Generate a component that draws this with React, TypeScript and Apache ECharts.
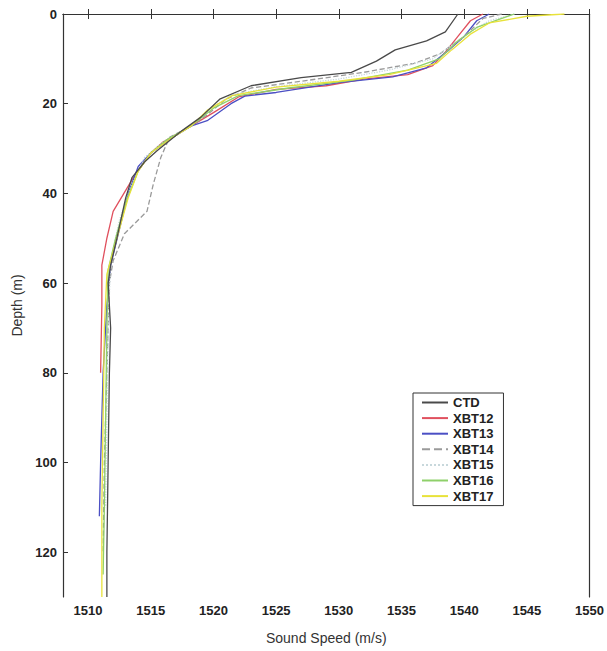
import React, { useEffect, useRef } from "react";
import * as echarts from "echarts";

// [sound speed (m/s), depth (m)]
const ctd: number[][] = [
  [1539.5, 0], [1538.5, 4], [1537, 6], [1534.5, 8], [1533, 10.5], [1531, 13], [1527, 14.2],
  [1523, 16], [1520.5, 19], [1519, 23], [1517.5, 26], [1515.5, 30.5], [1514.5, 33],
  [1513.5, 36.5], [1513, 41], [1512.3, 50], [1511.8, 56], [1511.6, 60], [1511.8, 70],
  [1511.7, 80], [1511.6, 100], [1511.5, 120], [1511.5, 130],
];
const xbt12: number[][] = [
  [1541.5, 0], [1540.5, 1.5], [1539.5, 5], [1538.5, 8.5], [1537.5, 11.5], [1535.5, 13.5],
  [1532, 14.5], [1529, 16], [1525, 16.8], [1522, 18.5], [1520, 22], [1518.2, 25],
  [1516, 28.5], [1515, 31], [1513.5, 37], [1512, 44], [1511.5, 50], [1511.1, 56],
  [1511.1, 65], [1511, 80],
];
const xbt13: number[][] = [
  [1542, 0], [1541, 1.5], [1540, 5], [1538.8, 8], [1537, 12], [1534.3, 14], [1530, 15.3],
  [1525, 17.5], [1522.5, 18.3], [1521.4, 20], [1519.5, 23.8], [1518.2, 25], [1516.5, 28],
  [1515, 31], [1514, 34], [1513.2, 40], [1512.5, 48], [1511.8, 56], [1511.5, 65],
  [1511.2, 80], [1511, 100], [1510.9, 112],
];
const xbt14: number[][] = [
  [1543, 0], [1541.5, 1], [1540, 5], [1538, 9], [1536, 11], [1532, 13], [1527, 15],
  [1523, 16.5], [1521, 19], [1519.5, 22.5], [1518.2, 25], [1516.5, 27.5], [1515.8, 32],
  [1515.2, 38], [1514.7, 44], [1512.9, 49], [1512, 55], [1511.7, 60], [1511.5, 80],
  [1511.3, 100], [1511.2, 120],
];
const xbt15: number[][] = [
  [1544, 0], [1542, 1.5], [1540.5, 4], [1539, 7], [1537.5, 10], [1534, 12.5], [1530, 14.5],
  [1525, 16.2], [1521.5, 18], [1519.8, 21], [1518.2, 25], [1516, 28.5], [1514.5, 32],
  [1513.5, 38], [1512.5, 46], [1511.8, 55], [1511.6, 70], [1511.5, 90], [1511.4, 110],
];
const xbt16: number[][] = [
  [1544, 0], [1542.5, 1.5], [1541, 3], [1539.5, 6], [1538, 10], [1535.5, 12.5], [1531, 14.8],
  [1526, 16.5], [1522, 18.2], [1520, 21], [1518.2, 25], [1516.3, 28], [1515, 31], [1514, 35],
  [1513, 42], [1512.2, 50], [1511.6, 57], [1511.5, 70], [1511.4, 90], [1511.3, 110],
  [1511.2, 125],
];
const xbt17: number[][] = [
  [1548, 0], [1545, 0.5], [1542, 2], [1540.5, 4.5], [1539, 8], [1537.8, 11], [1534, 13.5],
  [1530, 15], [1525, 16.3], [1521.5, 18.2], [1519.5, 21.5], [1518.2, 25], [1516.5, 28],
  [1515, 31], [1514, 35], [1513.2, 41], [1512.3, 50], [1511.5, 58], [1511.3, 70],
  [1511.2, 90], [1511.1, 110], [1511.1, 130],
];

const seriesNames = ["CTD", "XBT12", "XBT13", "XBT14", "XBT15", "XBT16", "XBT17"];
const seriesData = [ctd, xbt12, xbt13, xbt14, xbt15, xbt16, xbt17];
const seriesColors = ["#4a4a4a", "#e0505e", "#4b4fc4", "#9a9a9a", "#c8d8dc", "#8fd06a", "#e8e23a"];
const seriesDash = ["solid", "solid", "solid", "dashed", "dotted", "solid", "solid"];

const xTicks = [1510, 1515, 1520, 1525, 1530, 1535, 1540, 1545, 1550];
const yTicks = [0, 20, 40, 60, 80, 100, 120];
const xMin = 1508;
const xMax = 1550;
const yMin = 0;
const yMax = 130;

const FONT = "'Liberation Sans', Arial, Helvetica, sans-serif";

export default function App() {
  const ref = useRef<HTMLDivElement>(null);
  useEffect(() => {
    document.body.style.margin = "0";
    if (!ref.current) return;
    const chart = echarts.init(ref.current, undefined, { renderer: "svg" });
    const axisLine = { show: true, lineStyle: { color: "#333", width: 1.2 } };
    chart.setOption({
      animation: false,
      backgroundColor: "#ffffff",
      grid: { left: 63, top: 14, width: 527, height: 583, containLabel: false },
      legend: {
        orient: "vertical",
        left: 413,
        top: 393,
        backgroundColor: "#fff",
        borderColor: "#333",
        borderWidth: 1,
        borderRadius: 0,
        padding: [3, 10, 3, 8],
        itemWidth: 26,
        itemHeight: 12,
        itemGap: 2.6,
        itemStyle: { opacity: 0 },
        textStyle: { fontFamily: FONT, fontWeight: "bold", fontSize: 13, color: "#222" },
        data: seriesNames,
      },
      xAxis: [
        {
          type: "value",
          min: xMin,
          max: xMax,
          position: "bottom",
          name: "Sound Speed (m/s)",
          nameLocation: "middle",
          nameGap: 34,
          nameTextStyle: { fontFamily: FONT, fontSize: 14, color: "#333" },
          axisLine,
          axisTick: { show: true, inside: true, length: 5, customValues: xTicks, lineStyle: { color: "#333" } },
          axisLabel: {
            customValues: xTicks,
            formatter: (v: number) => String(v),
            margin: 7,
            fontFamily: FONT,
            fontWeight: "bold",
            fontSize: 13,
            color: "#222",
          },
          splitLine: { show: false },
        },
        {
          type: "value",
          min: xMin,
          max: xMax,
          position: "top",
          axisLine,
          axisTick: { show: true, inside: true, length: 5, customValues: xTicks, lineStyle: { color: "#333" } },
          axisLabel: { show: false },
          splitLine: { show: false },
        },
      ],
      yAxis: [
        {
          type: "value",
          min: yMin,
          max: yMax,
          inverse: true,
          position: "left",
          name: "Depth (m)",
          nameLocation: "middle",
          nameGap: 36,
          nameRotate: 90,
          nameTextStyle: { fontFamily: FONT, fontSize: 14, color: "#333" },
          axisLine,
          axisTick: { show: true, inside: true, length: 5, customValues: yTicks, lineStyle: { color: "#333" } },
          axisLabel: {
            customValues: yTicks,
            formatter: (v: number) => String(v),
            margin: 6,
            fontFamily: FONT,
            fontWeight: "bold",
            fontSize: 13,
            color: "#222",
          },
          splitLine: { show: false },
        },
        {
          type: "value",
          min: yMin,
          max: yMax,
          inverse: true,
          position: "right",
          axisLine,
          axisTick: { show: false },
          axisLabel: { show: false },
          splitLine: { show: false },
        },
      ],
      series: seriesNames.map((name, i) => ({
        name,
        type: "line",
        data: seriesData[i],
        symbol: "none",
        smooth: false,
        xAxisIndex: 0,
        yAxisIndex: 0,
        color: seriesColors[i],
        lineStyle: { color: seriesColors[i], width: 1.3, type: seriesDash[i] },
        z: i === 0 ? 10 : 3,
      })),
    });
    return () => chart.dispose();
  }, []);
  return <div ref={ref} style={{ width: 607, height: 651 }} />;
}
